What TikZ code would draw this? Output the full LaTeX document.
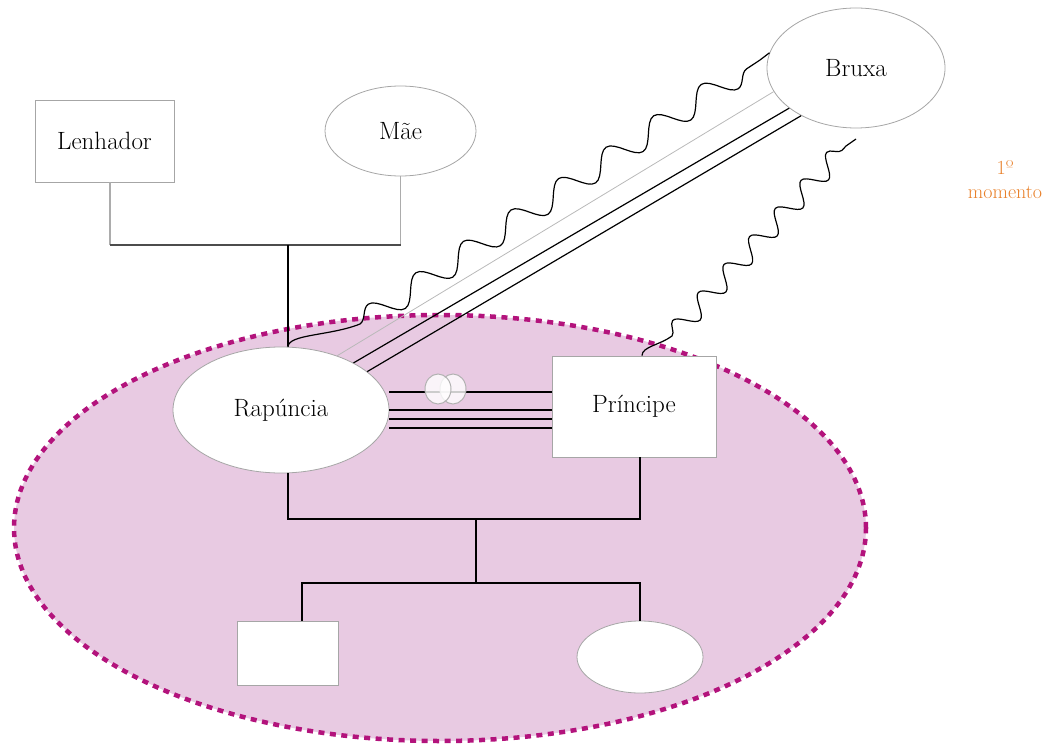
\documentclass[tikz,border=0pt]{standalone}
\usetikzlibrary{shapes.geometric,decorations.pathmorphing}
\definecolor{groupfill}{HTML}{E8CAE2}
\definecolor{groupline}{HTML}{B3137C}
\definecolor{noteorange}{HTML}{E8802A}
\begin{document}
\begin{tikzpicture}[x=1pt,y=-1pt,
  lbl/.style={font=\fontsize{25}{29}\selectfont},
  person/.style={draw=gray!70,line width=0.8pt,fill=white,inner sep=0pt,lbl},
  woman/.style={person,ellipse},
  man/.style={person,rectangle},
  kinup/.style={line width=1.1pt,gray!65},
  kin/.style={line width=1.3pt,black!70},
  bond/.style={line width=1.2pt,black},
  faint/.style={line width=0.8pt,gray!55},
  wave/.style={line width=1.2pt,black,line join=round},
  ring/.style={draw=gray!60,fill=white,line width=1pt},
]
\useasboundingbox (0,0) rectangle (1064,746);

% group of the second generation
\node[ellipse,fill=groupfill,draw=groupline,line width=4.5pt,
      dash pattern=on 6pt off 5.5pt,minimum width=852pt,minimum height=426pt]
      (grp) at (440,528) {};

% people
\node[man,minimum width=139pt,minimum height=82pt] (len) at (104.5,141) {Lenhador};
\node[woman,minimum width=151pt,minimum height=90pt] (mae) at (400.5,131) {Mãe};
\node[woman,minimum width=178pt,minimum height=120pt] (bru) at (856,68) {Bruxa};

% parents' connector
\coordinate (m1) at (288,245);
\coordinate (m1l) at (110,245);
\coordinate (m1r) at (400.5,245);
\draw[kinup] ([xshift=5.5pt]len.south) -- (m1l);
\draw[kinup] (mae.south) -- (m1r);
\draw[kin] (m1l) -- (m1r);
\draw[bond] (m1) -- (288,347);

% bonds from Bruxa to Rapúncia
\coordinate (w1s) at (360,324);
\coordinate (w1e) at (760,60);
\draw[wave] (288,347) .. controls (288,334) and (330,336) .. (w1s)
  decorate[decoration={snake,segment length=57pt,amplitude=12pt}] {-- (w1e)}
  -- (bru.170);

\node[woman,minimum width=216pt,minimum height=126pt] (rap) at (281,410) {Rapúncia};
\node[man,minimum width=164pt,minimum height=101pt] (pri) at (634,406.5) {Príncipe};

\draw[faint] (rap.44) -- (bru.196);
\draw[bond] (rap.33) -- (bru.211);
\draw[bond] (rap.24) -- (bru.221);

% bond from Bruxa to Príncipe
\coordinate (w2s) at (672,336);
\coordinate (w2e) at (846,146);
\coordinate (w2t) at (856,139);
\draw[wave] ([xshift=8pt]pri.north) .. controls +(0,-9) and (660,345) .. (w2s)
  decorate[decoration={snake,segment length=38pt,amplitude=10pt}] {-- (w2e)}
  -- (w2t);

% couple Rapúncia - Príncipe
\foreach \yy in {392,410,419,428}
  \draw[bond] (rap.east |- 0,\yy) -- (pri.west |- 0,\yy);
\draw[ring,fill opacity=0.8] (453,389) ellipse [x radius=13pt,y radius=15pt];
\draw[ring,fill opacity=0.8] (438,389) ellipse [x radius=13pt,y radius=15pt];

% children
\node[man,minimum width=101pt,minimum height=64pt] (c1) at (287.5,653) {};
\node[woman,minimum width=126pt,minimum height=72pt] (c2) at (640,657) {};
\coordinate (m2) at (476,519);
\coordinate (m3) at (476,583);
\draw[bond] ([xshift=7pt]rap.south) |- (m2) -| ([xshift=6pt]pri.south);
\draw[bond] (m2) -- (m3);
\draw[bond] ([xshift=14.5pt]c1.north) |- (m3) -| (c2.north);

% note
\node[text=noteorange,align=center,font=\fontsize{20}{24}\selectfont] (note) at (1005,180) {1º\\momento};
\end{tikzpicture}
\end{document}
